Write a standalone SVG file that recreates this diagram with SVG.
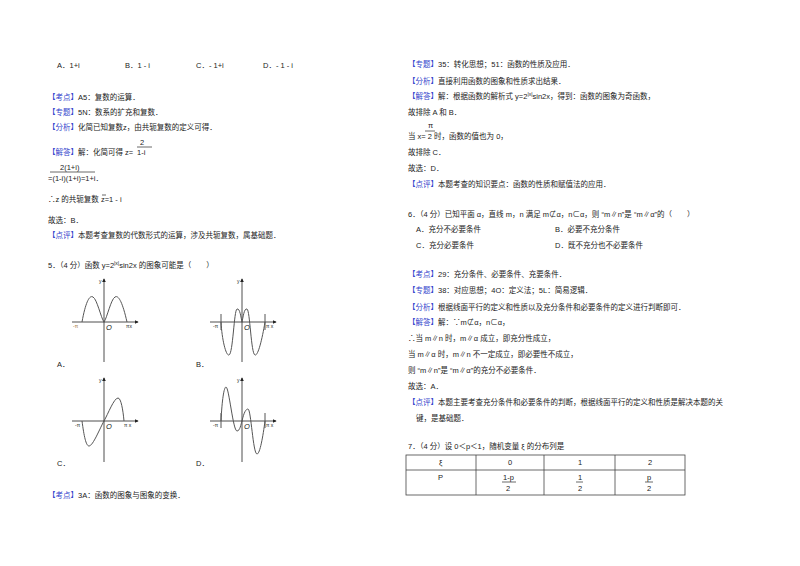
<svg xmlns="http://www.w3.org/2000/svg" width="800" height="566" viewBox="0 0 800 566">
<style>
text{font-family:"Liberation Sans","Noto Sans CJK SC",sans-serif;font-size:7.5px;fill:#222}
.b{fill:#3344cc}
.ax{stroke:#222;stroke-width:0.8;fill:none}
.cv{stroke:#555;stroke-width:1;fill:none}
.s{font-size:5px}
.t{stroke:#444;stroke-width:0.8;fill:none}
</style>
<defs><marker id="ar" viewBox="0 0 6 6" refX="5" refY="3" markerWidth="5" markerHeight="5" orient="auto"><path d="M0,0L6,3L0,6z" fill="#222"/></marker></defs>
<rect width="800" height="566" fill="#fff"/>
<g id="left">
<text x="57" y="68">A．1+i</text><text x="125" y="68">B．1 - i</text><text x="196" y="68">C．- 1+i</text><text x="263" y="68">D．- 1 - i</text>
<text x="48" y="100"><tspan class="b">【考点】</tspan>A5：复数的运算．</text>
<text x="48" y="115"><tspan class="b">【专题】</tspan>5N：数系的扩充和复数．</text>
<text x="48" y="130"><tspan class="b">【分析】</tspan>化简已知复数z，由共轭复数的定义可得．</text>
<text x="48" y="155"><tspan class="b">【解答】</tspan>解：化简可得 z=</text>
<text x="140" y="145">2</text><line x1="137" y1="147" x2="152" y2="147" class="t"/><text x="137" y="155">1-i</text>
<text x="60" y="170">2(1+i)</text><line x1="50" y1="172" x2="95" y2="172" class="t"/>
<text x="48" y="181">=(1-i)(1+i)=1+i．</text>
<text x="48" y="202">∴z 的共轭复数 z=1 - i</text><line x1="102" y1="195" x2="106" y2="195" class="t"/>
<text x="48" y="223">故选：B．</text>
<text x="48" y="238"><tspan class="b">【点评】</tspan>本题考查复数的代数形式的运算，涉及共轭复数，属基础题．</text>
<text x="48" y="268">5．（4 分）函数 y=2<tspan class="s" dy="-3">|x|</tspan><tspan dy="3">sin2x 的图象可能是（　　）</tspan></text>
<text x="57" y="367">A．</text><text x="196" y="367">B．</text><text x="57" y="466">C．</text><text x="196" y="466">D．</text>
<text x="48" y="498"><tspan class="b">【考点】</tspan>3A：函数的图象与图象的变换．</text>
</g>
<g id="graphA">
<line x1="104" y1="362" x2="104" y2="279" class="ax" marker-end="url(#ar)"/><line x1="72" y1="322" x2="138" y2="322" class="ax" marker-end="url(#ar)"/>
<path d="M82,322 C86,300 90,295 93,297 C97,299 101,318 104,322 C107,318 111,299 115,297 C118,295 122,300 127,322" class="cv"/>
<text x="99" y="283" class="s">y</text><text x="73" y="328" class="s" style="fill:#963">-π</text><text x="106" y="330" font-style="italic">O</text><text x="126" y="328" class="s">πx</text>
</g>
<g id="graphB">
<line x1="242" y1="362" x2="242" y2="279" class="ax" marker-end="url(#ar)"/><line x1="210" y1="322" x2="276" y2="322" class="ax" marker-end="url(#ar)"/>
<line x1="221" y1="314" x2="221" y2="330" class="cv"/><line x1="265" y1="314" x2="265" y2="330" class="cv"/>
<path d="M221,322 C222,340 226,356 229,355 C233,354 234,310 237,309 C240,308 241,318 242,322 C243,318 244,308 247,309 C250,310 251,354 255,355 C258,356 262,340 265,322" class="cv"/>
<text x="237" y="283" class="s">y</text><text x="213" y="328" class="s">-π</text><text x="244" y="330" font-style="italic">O</text><text x="266" y="328" class="s">π x</text>
</g>
<g id="graphC">
<line x1="104" y1="462" x2="104" y2="378" class="ax" marker-end="url(#ar)"/><line x1="72" y1="421" x2="138" y2="421" class="ax" marker-end="url(#ar)"/>
<path d="M82,421 C84,436 86,446 89,446 C93,446 100,428 104,421 C108,414 114,398 118,398 C121,398 123,410 124,421" class="cv"/>
<text x="99" y="382" class="s">y</text><text x="75" y="427" class="s">-π</text><text x="106" y="429" font-style="italic">O</text><text x="124" y="427" class="s">π x</text>
</g>
<g id="graphD">
<line x1="242" y1="462" x2="242" y2="378" class="ax" marker-end="url(#ar)"/><line x1="210" y1="421" x2="276" y2="421" class="ax" marker-end="url(#ar)"/>
<line x1="221" y1="413" x2="221" y2="428" class="cv"/><line x1="265" y1="413" x2="265" y2="428" class="cv"/>
<path d="M221,421 C222,400 224,387 226,387 C229,387 233,431 237,431 C240,431 241,424 242,421 C244,412 246,409 248,409 C251,409 253,454 257,454 C260,454 263,436 265,421" class="cv"/>
<text x="237" y="382" class="s">y</text><text x="213" y="427" class="s">-π</text><text x="244" y="429" font-style="italic">O</text><text x="266" y="427" class="s">π x</text>
</g>
<g id="right">
<text x="408" y="67"><tspan class="b">【专题】</tspan>35：转化思想；51：函数的性质及应用．</text>
<text x="408" y="84"><tspan class="b">【分析】</tspan>直接利用函数的图象和性质求出结果．</text>
<text x="408" y="99"><tspan class="b">【解答】</tspan>解：根据函数的解析式 y=2<tspan class="s" dy="-3">|x|</tspan><tspan dy="3">sin2x，得到：函数的图象为奇函数，</tspan></text>
<text x="408" y="115">故排除 A 和 B．</text>
<text x="428" y="128">π</text><line x1="425" y1="131" x2="435" y2="131" class="t"/>
<text x="408" y="139">当 x=  2 时，函数的值也为 0，</text>
<text x="408" y="155">故排除 C．</text>
<text x="408" y="171">故选：D．</text>
<text x="408" y="187"><tspan class="b">【点评】</tspan>本题考查的知识要点：函数的性质和赋值法的应用．</text>
<text x="408" y="217">6．（4 分）已知平面 α，直线 m，n 满足 m⊄α，n⊂α，则 “m∥n”是 “m∥α”的（　　）</text>
<text x="416" y="232">A．充分不必要条件</text><text x="555" y="232">B．必要不充分条件</text>
<text x="416" y="248">C．充分必要条件</text><text x="555" y="248">D．既不充分也不必要条件</text>
<text x="408" y="277"><tspan class="b">【考点】</tspan>29：充分条件、必要条件、充要条件．</text>
<text x="408" y="293"><tspan class="b">【专题】</tspan>38：对应思想；4O：定义法；5L：简易逻辑．</text>
<text x="408" y="310"><tspan class="b">【分析】</tspan>根据线面平行的定义和性质以及充分条件和必要条件的定义进行判断即可．</text>
<text x="408" y="325"><tspan class="b">【解答】</tspan>解：∵m⊄α，n⊂α，</text>
<text x="408" y="341">∴当 m∥n 时，m∥α 成立，即充分性成立，</text>
<text x="408" y="357">当 m∥α 时，m∥n 不一定成立，即必要性不成立，</text>
<text x="408" y="373">则 “m∥n”是 “m∥α”的充分不必要条件．</text>
<text x="408" y="389">故选：A．</text>
<text x="408" y="405"><tspan class="b">【点评】</tspan>本题主要考查充分条件和必要条件的判断，根据线面平行的定义和性质是解决本题的关</text>
<text x="416" y="421">键，是基础题．</text>
<text x="408" y="449">7．（4 分）设 0＜p＜1，随机变量 ξ 的分布列是</text>
</g>
<g id="table">
<rect x="406" y="455" width="279" height="40" class="t"/>
<line x1="406" y1="470" x2="685" y2="470" class="t"/>
<line x1="476" y1="455" x2="476" y2="495" class="t"/><line x1="544" y1="455" x2="544" y2="495" class="t"/><line x1="615" y1="455" x2="615" y2="495" class="t"/>
<text x="439" y="465">ξ</text><text x="508" y="465">0</text><text x="578" y="465">1</text><text x="648" y="465">2</text>
<text x="438" y="480">P</text>
<text x="503" y="480">1-p</text><line x1="502" y1="482" x2="516" y2="482" class="t"/><text x="506" y="491">2</text>
<text x="578" y="480">1</text><line x1="576" y1="482" x2="583" y2="482" class="t"/><text x="578" y="491">2</text>
<text x="647" y="480">p</text><line x1="645" y1="482" x2="653" y2="482" class="t"/><text x="647" y="491">2</text>
</g>
</svg>
